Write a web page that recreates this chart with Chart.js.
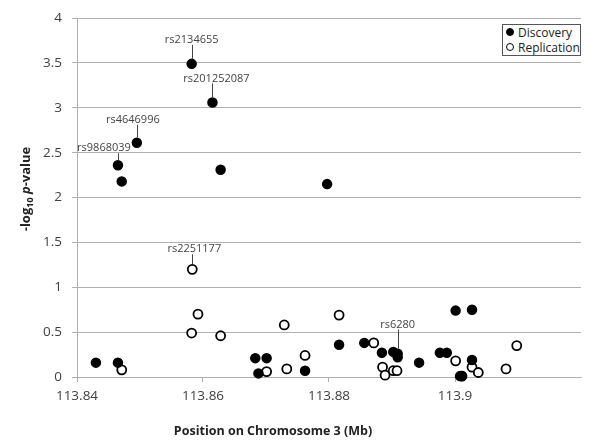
<!DOCTYPE html>
<html>
<head>
<meta charset="utf-8">
<script src="https://cdn.jsdelivr.net/npm/chart.js@4.4.1/dist/chart.umd.min.js"></script>
<style>
  body { margin: 0; background: #fff; }
  .wrap { position: relative; width: 600px; height: 448px; }
  #legend {
    position: absolute; left: 502px; top: 24px; width: 77px; height: 30px;
    border: 1px solid #555; background: #fff;
    font: 12px "Open Sans", sans-serif; color: #222;
  }
  #legend .row { height: 15px; line-height: 15px; position: relative; padding-left: 15px; white-space: nowrap; }
  #legend .row:first-child { margin-top: 0px; }
  #legend .dot { position: absolute; left: 3px; top: 3px; width: 8px; height: 8px; border-radius: 50%; box-sizing: border-box; }
</style>
</head>
<body>
<div class="wrap">
  <canvas id="snpChart" width="600" height="448"></canvas>
  <div id="legend"></div>
</div>
<script>
// discovery cohort (filled)
const discoveryX = [113.8430, 113.8465, 113.8465, 113.8471, 113.8495, 113.8582, 113.8615, 113.8628,
  113.8683, 113.8688, 113.8701, 113.8762, 113.8797, 113.8816, 113.8856, 113.8884, 113.8902,
  113.8909, 113.8909, 113.8943, 113.8976, 113.8987, 113.9001, 113.9008, 113.9011, 113.9027, 113.9027];
const discoveryY = [0.16, 0.16, 2.36, 2.18, 2.61, 3.49, 3.06, 2.31,
  0.21, 0.04, 0.21, 0.07, 2.15, 0.36, 0.38, 0.27, 0.28,
  0.26, 0.22, 0.16, 0.27, 0.27, 0.74, 0.01, 0.01, 0.75, 0.19];

// replication cohort (open)
const replicationX = [113.8471, 113.8582, 113.8583, 113.8592, 113.8628, 113.8701, 113.8729, 113.8733,
  113.8762, 113.8816, 113.8871, 113.8885, 113.8889, 113.8902, 113.8908, 113.9001, 113.9011,
  113.9027, 113.9037, 113.9081, 113.9098];
const replicationY = [0.08, 0.49, 1.20, 0.70, 0.46, 0.06, 0.58, 0.09,
  0.24, 0.69, 0.38, 0.11, 0.02, 0.07, 0.07, 0.18, 0.01,
  0.11, 0.05, 0.09, 0.35];

const seriesNames = ["Discovery", "Replication"];

// labelled SNPs: which series / point
const snpNames = ["rs9868039", "rs4646996", "rs2134655", "rs201252087", "rs2251177", "rs6280"];
const snpSeries = [0, 0, 0, 0, 1, 0];
const snpIndex = [2, 4, 5, 6, 2, 17];

const xTickValues = [113.84, 113.86, 113.88, 113.90];
const xTickLabels = ["113.84", "113.86", "113.88", "113.9"];
const yTickValues = [0, 0.5, 1, 1.5, 2, 2.5, 3, 3.5, 4];
const yTickLabels = ["0", "0.5", "1", "1.5", "2", "2.5", "3", "3.5", "4"];

// label placement relative to the point (px)
const snpLabelOffset = {
  rs9868039: [-14, -17],
  rs4646996: [-4, -23],
  rs2134655: [0, -24],
  rs201252087: [4, -24],
  rs2251177: [2, -20],
  rs6280: [0, -29]
};

const gridColor = "#b0b0b0";
const tickColor = "#404040";

function toPoints(xs, ys) {
  return xs.map((x, i) => ({ x: x, y: ys[i] }));
}

const snpLabelPlugin = {
  id: "snpLabels",
  afterDatasetsDraw(chart) {
    const ctx = chart.ctx;
    ctx.save();
    ctx.font = '11px "Open Sans"';
    ctx.fillStyle = "#444";
    ctx.strokeStyle = "#444";
    ctx.lineWidth = 1;
    ctx.textAlign = "center";
    ctx.textBaseline = "middle";
    snpNames.forEach((name, i) => {
      const pt = chart.getDatasetMeta(snpSeries[i]).data[snpIndex[i]];
      const off = snpLabelOffset[name];
      const tx = pt.x + off[0];
      const ty = pt.y + off[1];
      ctx.beginPath();
      ctx.moveTo(Math.round(pt.x) + 0.5, ty + 5);
      ctx.lineTo(Math.round(pt.x) + 0.5, pt.y - 5);
      ctx.stroke();
      ctx.fillText(name, tx, ty);
    });
    ctx.restore();
  }
};

const axisTitlePlugin = {
  id: "axisTitles",
  afterDraw(chart) {
    const ctx = chart.ctx;
    ctx.save();
    ctx.fillStyle = "#222";
    ctx.textBaseline = "alphabetic";
    // x title
    ctx.font = 'bold 12.5px "Open Sans"';
    ctx.textAlign = "center";
    ctx.fillText("Position on Chromosome 3 (Mb)", 273, 435);

    // y title: -log10 p-value
    const parts = [
      { t: "-log", f: 'bold 13px "Open Sans"', dy: 0 },
      { t: "10", f: 'bold 9px "Open Sans"', dy: 3 },
      { t: " ", f: 'bold 13px "Open Sans"', dy: 0 },
      { t: "p", f: 'italic bold 13px "Open Sans"', dy: 0 },
      { t: "-value", f: 'bold 13px "Open Sans"', dy: 0 }
    ];
    let total = 0;
    parts.forEach(p => { ctx.font = p.f; p.w = ctx.measureText(p.t).width; total += p.w; });
    ctx.translate(30, 189);
    ctx.rotate(-Math.PI / 2);
    ctx.textAlign = "left";
    let x = -total / 2;
    parts.forEach(p => {
      ctx.font = p.f;
      ctx.fillText(p.t, x, p.dy);
      x += p.w;
    });
    ctx.restore();
  }
};

const ctx = document.getElementById("snpChart");
const chart = new Chart(ctx, {
  type: "scatter",
  data: {
    datasets: [
      {
        label: seriesNames[0],
        data: toPoints(discoveryX, discoveryY),
        backgroundColor: "#000",
        borderColor: "#000",
        borderWidth: 1.5,
        pointRadius: 4.5,
        clip: false
      },
      {
        label: seriesNames[1],
        data: toPoints(replicationX, replicationY),
        backgroundColor: "#fff",
        borderColor: "#000",
        borderWidth: 1.8,
        pointRadius: 4.5,
        clip: false
      }
    ]
  },
  options: {
    responsive: false,
    animation: false,
    layout: { padding: { top: 18, right: 19, left: 0, bottom: 0 } },
    plugins: {
      legend: { display: false },
      tooltip: { enabled: false }
    },
    scales: {
      x: {
        type: "linear",
        min: 113.84,
        max: 113.92,
        afterBuildTicks: (scale) => { scale.ticks = xTickValues.map(v => ({ value: v })); },
        afterFit: (scale) => { scale.height = 71; },
        grid: { drawOnChartArea: false, drawTicks: true, tickLength: 5, color: gridColor },
        border: { display: true, color: gridColor },
        ticks: {
          padding: 6,
          color: tickColor,
          font: { family: "Open Sans", size: 13.5 },
          maxRotation: 0,
          callback: (v, i) => xTickLabels[i]
        }
      },
      y: {
        min: 0,
        max: 4,
        afterBuildTicks: (scale) => { scale.ticks = yTickValues.map(v => ({ value: v })); },
        afterFit: (scale) => { scale.width = 77; },
        grid: { drawTicks: true, tickLength: 5, color: gridColor },
        border: { display: true, color: gridColor },
        ticks: {
          padding: 10,
          color: tickColor,
          font: { family: "Open Sans", size: 13.5 },
          callback: (v, i) => yTickLabels[i]
        }
      }
    }
  },
  plugins: [snpLabelPlugin, axisTitlePlugin]
});

// legend box built from the datasets
const legendEl = document.getElementById("legend");
chart.data.datasets.forEach((ds) => {
  const row = document.createElement("div");
  row.className = "row";
  const dot = document.createElement("span");
  dot.className = "dot";
  dot.style.background = ds.backgroundColor;
  dot.style.border = "1.5px solid " + ds.borderColor;
  row.appendChild(dot);
  row.appendChild(document.createTextNode(ds.label));
  legendEl.appendChild(row);
});
</script>
</body>
</html>
